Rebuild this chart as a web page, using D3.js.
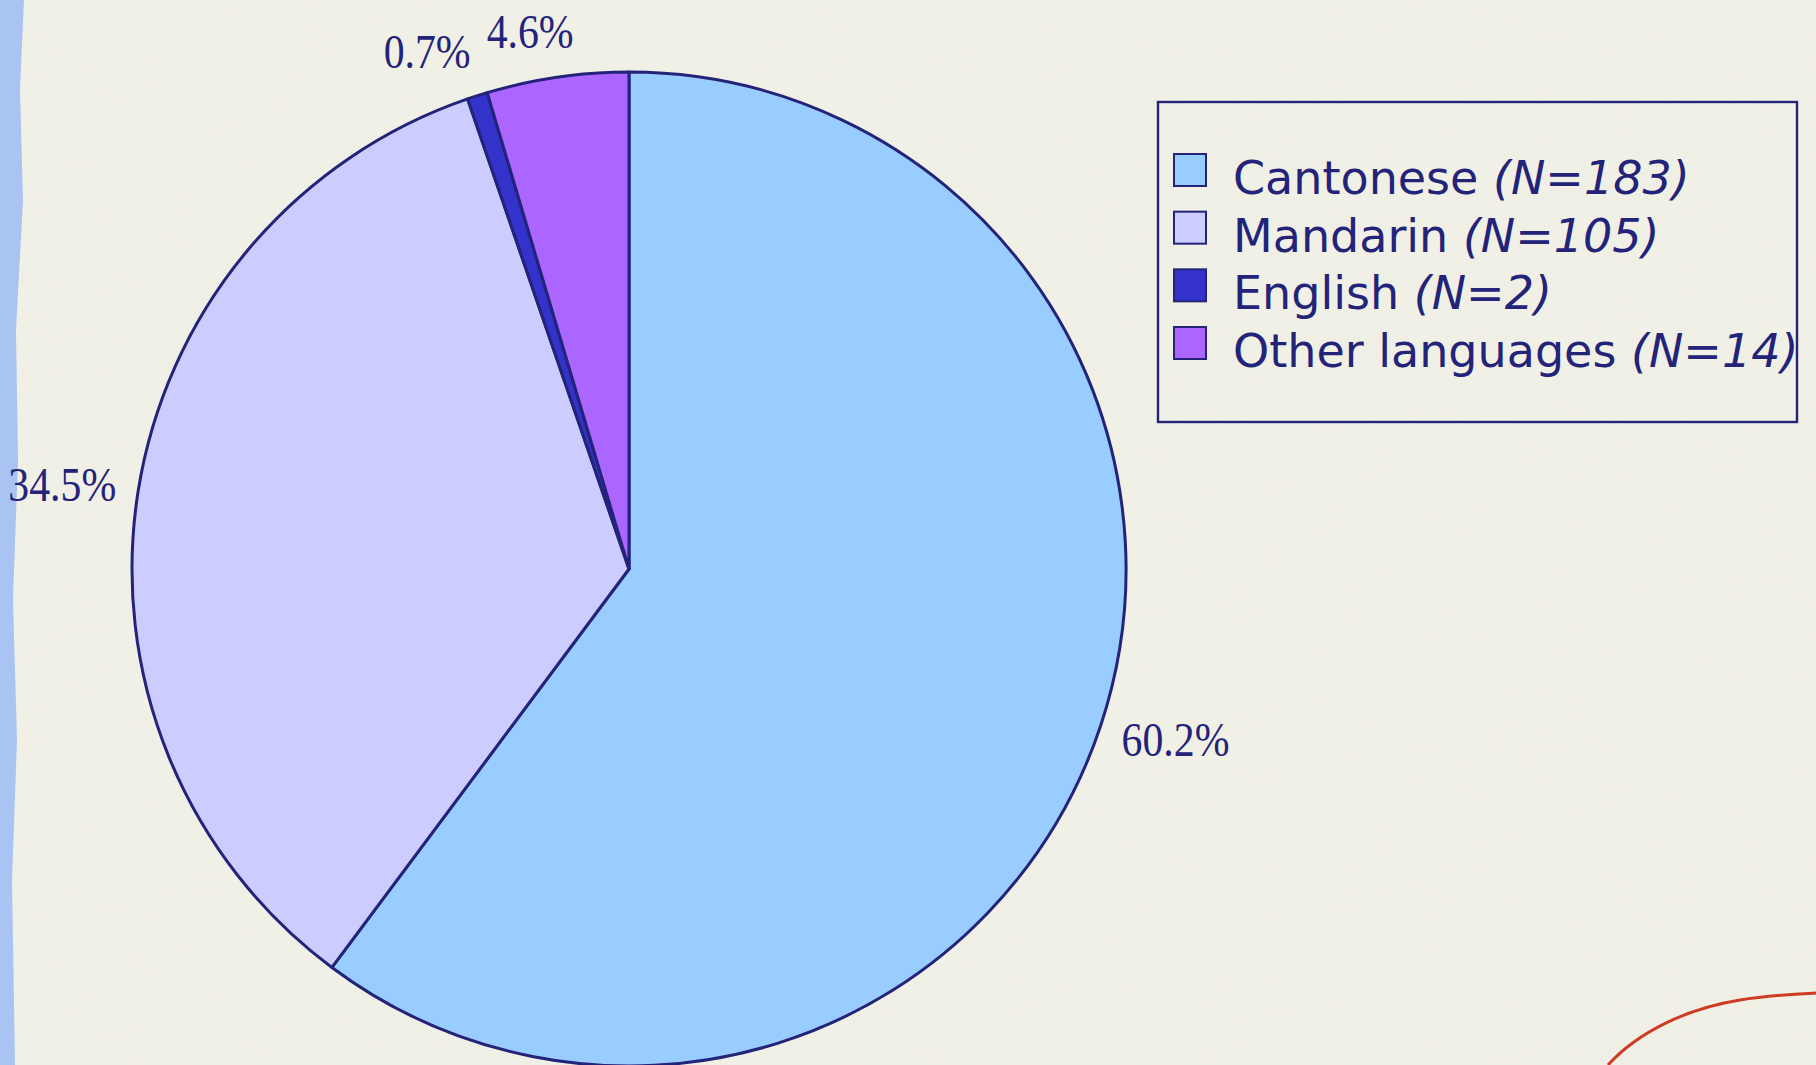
<!DOCTYPE html>
<html>
<head>
<meta charset="utf-8">
<script src="https://cdn.jsdelivr.net/npm/d3@7"></script>
<style>
  body { margin: 0; background: #f1efe3; overflow: hidden; }
</style>
</head>
<body>
<div id="chart"></div>
<script>
var w = 1816;
var h = 1065;

// data
var languages = ["Cantonese", "Mandarin", "English", "Other languages"];
var counts = [183, 105, 2, 14];
var colors = ["#99CCFF", "#CCCCFF", "#3333CC", "#AA66FF"];

var ink = "#23237a";
var total = d3.sum(counts);
var pct = d3.format(".1%");

var svg = d3.select("#chart")
    .append("svg")
    .attr("width", w)
    .attr("height", h);

// paper background
var defs = svg.append("defs");
var f = defs.append("filter").attr("id", "paper").attr("x", 0).attr("y", 0).attr("width", "100%").attr("height", "100%");
f.append("feTurbulence").attr("type", "fractalNoise").attr("baseFrequency", "0.02 0.05").attr("numOctaves", 3).attr("seed", 4);
f.append("feColorMatrix").attr("type", "matrix")
    .attr("values", "0 0 0 0 0.85  0 0 0 0 0.84  0 0 0 0 0.78  0 0 0 -1.1 0.75");

svg.append("rect").attr("width", w).attr("height", h).attr("fill", "#f1f0e6");
svg.append("rect").attr("width", w).attr("height", h).attr("filter", "url(#paper)").attr("opacity", 0.35);

// blue strip at the left edge
svg.append("path")
    .attr("d", "M0,0 L24,0 L20,90 L23,200 L16,330 L18,460 L13,600 L17,740 L12,880 L15,1065 L0,1065 Z")
    .attr("fill", "#a9c4f2");

// red stroke at bottom right
svg.append("path")
    .attr("d", "M1608,1065 C1640,1030 1690,1008 1740,1000 C1770,995 1795,994 1816,993")
    .attr("fill", "none")
    .attr("stroke", "#cc3b22")
    .attr("stroke-width", 3);

// pie
var cx = 629, cy = 569, r = 497;

var pie = d3.pie().sort(null).value(function(d) { return d; });
var arcs = pie(counts);
var arc = d3.arc().innerRadius(0).outerRadius(r);

var g = svg.append("g").attr("transform", "translate(" + cx + "," + cy + ")");

g.selectAll("path")
    .data(arcs)
    .enter()
    .append("path")
    .attr("d", arc)
    .attr("fill", function(d, i) { return colors[i]; })
    .attr("stroke", ink)
    .attr("stroke-width", 3)
    .attr("stroke-linejoin", "round");

// percentage labels outside the slices, Excel style:
// box pushed out from a point just beyond the rim
var labelSize = 48, squeeze = 0.87, gapX = 22, gapY = 30, digitH = 32, minSpace = 16;

var labels = g.selectAll("text.pct")
    .data(arcs)
    .enter()
    .append("text")
    .attr("class", "pct")
    .attr("font-family", "'Liberation Serif', 'Times New Roman', serif")
    .attr("font-size", labelSize)
    .attr("fill", ink)
    .text(function(d) { return pct(d.value / total); });

var boxes = [];
labels.each(function(d) {
    var a = (d.startAngle + d.endAngle) / 2;
    var sx = Math.sin(a), sy = -Math.cos(a);
    var tw = this.getComputedTextLength() * squeeze;
    var px = sx * (r + gapX);
    var left = sx < 0 ? px - tw : px;
    var base = sy * (r + gapY) + sy * digitH / 2 + digitH / 2;
    boxes.push({ node: this, left: left, tw: tw, base: base });
});

// nudge labels that sit side by side so they do not touch
boxes.slice().sort(function(a, b) { return a.left - b.left; })
    .forEach(function(b, i, arr) {
        if (i === 0) return;
        var p = arr[i - 1];
        if (Math.abs(p.base - b.base) < digitH && b.left < p.left + p.tw + minSpace) {
            b.left = p.left + p.tw + minSpace;
        }
    });

boxes.forEach(function(b) {
    d3.select(b.node).attr("transform", "translate(" + b.left + "," + b.base + ") scale(" + squeeze + ",1)");
});

// legend
var lx = 1158, ly = 102, lw = 639, lh = 320;
var legend = svg.append("g");

legend.append("rect")
    .attr("x", lx)
    .attr("y", ly)
    .attr("width", lw)
    .attr("height", lh)
    .attr("fill", "none")
    .attr("stroke", ink)
    .attr("stroke-width", 2.4);

var rowY = d3.scalePoint()
    .domain(languages)
    .range([176, 349]);

var rows = legend.selectAll("g.row")
    .data(languages)
    .enter()
    .append("g")
    .attr("class", "row")
    .attr("transform", function(d) { return "translate(0," + rowY(d) + ")"; });

rows.append("rect")
    .attr("x", 1174)
    .attr("y", -22)
    .attr("width", 32)
    .attr("height", 32)
    .attr("fill", function(d, i) { return colors[i]; })
    .attr("stroke", ink)
    .attr("stroke-width", 2);

var lt = rows.append("text")
    .attr("x", 1233)
    .attr("y", 18)
    .attr("font-family", "'DejaVu Sans', Verdana, sans-serif")
    .attr("font-size", 46)
    .attr("fill", ink);

lt.append("tspan").text(function(d) { return d + " "; });
lt.append("tspan")
    .attr("font-style", "italic")
    .text(function(d, i) { return "(N=" + counts[i] + ")"; });
</script>
</body>
</html>
